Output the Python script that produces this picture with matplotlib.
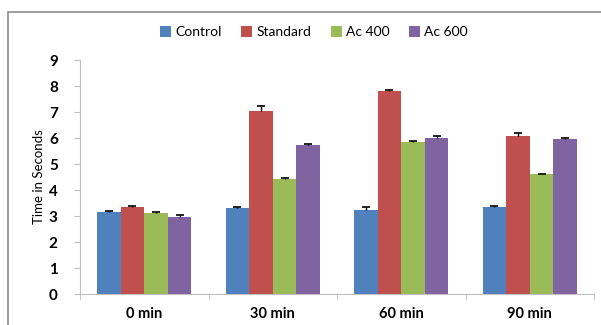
import numpy as np
import matplotlib
matplotlib.use("Agg")
import matplotlib.pyplot as plt
from matplotlib.patches import Rectangle

plt.rcParams['font.family'] = ['Lato', 'DejaVu Sans']

categories = ['0 min', '30 min', '60 min', '90 min']
series = ['Control', 'Standard', 'Ac 400', 'Ac 600']
values = {
    'Control':  [3.14, 3.31, 3.24, 3.35],
    'Standard': [3.35, 7.05, 7.81, 6.09],
    'Ac 400':   [3.10, 4.42, 5.86, 4.60],
    'Ac 600':   [2.97, 5.74, 6.00, 5.95],
}
errors = {
    'Control':  [0.06, 0.02, 0.10, 0.04],
    'Standard': [0.03, 0.19, 0.03, 0.10],
    'Ac 400':   [0.04, 0.04, 0.03, 0.02],
    'Ac 600':   [0.05, 0.03, 0.06, 0.05],
}
colors = ['#4F81BD', '#C0504D', '#9BBB59', '#8064A2']

fig = plt.figure(figsize=(6.01, 3.25), dpi=100)
fig.patches.append(Rectangle((8 / 601, -0.1), 1.2, 1 - 12 / 325 + 0.1,
                             transform=fig.transFigure, fill=False,
                             edgecolor='#8c8c8c', linewidth=1.2))
ax = fig.add_axes([80 / 601, 31 / 325, 514 / 601, 234 / 325])

x = np.arange(len(categories))
w = 0.183
for i, name in enumerate(series):
    pos = x + (i - 1.5) * w
    err = np.array(errors[name])
    bars = ax.bar(pos, values[name], width=w, color=colors[i], label=name,
                  yerr=[np.zeros_like(err), err], capsize=3,
                  error_kw=dict(ecolor='black', elinewidth=1, capthick=1.2))
    # hide the lower cap, only the upper T is drawn
    caps = bars.errorbar.lines[1]
    caps[0].set_visible(False)

ax.set_xlim(-0.5, len(categories) - 0.5)
ax.set_ylim(0, 9)
ax.set_yticks(range(10))
ax.set_xticks(x)
ax.set_xticklabels(categories, fontweight='bold', fontsize=10.5)
ax.set_xticks(np.arange(-0.5, len(categories)), minor=True)
ax.tick_params(axis='x', which='major', length=0, pad=9)
ax.tick_params(axis='x', which='minor', length=4, color='#bfbfbf')
ax.tick_params(axis='y', length=4, color='#bfbfbf', labelsize=11, pad=12)
for lab in ax.get_yticklabels():
    lab.set_fontweight('bold')
ax.set_ylabel('Time in Seconds', fontsize=9.5, labelpad=3)

for s in ['top', 'right']:
    ax.spines[s].set_visible(False)
ax.spines['left'].set_color('#bfbfbf')
ax.spines['bottom'].set_color('#bfbfbf')

ax.legend(loc='center', bbox_to_anchor=(314 / 601, 1 - 32 / 325),
          bbox_transform=fig.transFigure, ncol=4, frameon=False,
          fontsize=10, handlelength=0.8, handleheight=0.8,
          handletextpad=0.3, columnspacing=1.4)

fig.savefig('out.png', dpi=100)
